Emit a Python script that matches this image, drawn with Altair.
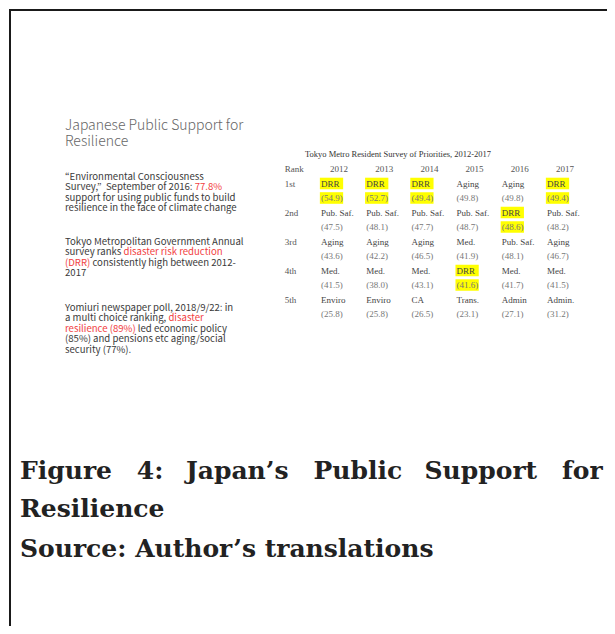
import altair as alt
import pandas as pd

# ---------------- data ----------------
ranks = ["1st", "2nd", "3rd", "4th", "5th"]
years = ["2012", "2013", "2014", "2015", "2016", "2017"]

items_2012 = ["DRR", "Pub. Saf.", "Aging", "Med.", "Enviro"]
items_2013 = ["DRR", "Pub. Saf.", "Aging", "Med.", "Enviro"]
items_2014 = ["DRR", "Pub. Saf.", "Aging", "Med.", "CA"]
items_2015 = ["Aging", "Pub. Saf.", "Med.", "DRR", "Trans."]
items_2016 = ["Aging", "DRR", "Pub. Saf.", "Med.", "Admin"]
items_2017 = ["DRR", "Pub. Saf.", "Aging", "Med.", "Admin."]

values_2012 = [54.9, 47.5, 43.6, 41.5, 25.8]
values_2013 = [52.7, 48.1, 42.2, 38.0, 25.8]
values_2014 = [49.4, 47.7, 46.5, 43.1, 26.5]
values_2015 = [49.8, 48.7, 41.9, 41.6, 23.1]
values_2016 = [49.8, 48.6, 48.1, 41.7, 27.1]
values_2017 = [49.4, 48.2, 46.7, 41.5, 31.2]

highlight_item = "DRR"
table_title = "Tokyo Metro Resident Survey of Priorities, 2012-2017"
rank_header = "Rank"

slide_title = ["Japanese Public Support for", "Resilience"]
# each line: (red prefix, dark text, red suffix)
para1 = [("", "\u201cEnvironmental Consciousness", ""),
         ("", "Survey,\u201d\u00a0 September of 2016: ", "77.8%"),
         ("", "support for using public funds to build", ""),
         ("", "resilience in the face of climate change", "")]
para2 = [("", "Tokyo Metropolitan Government Annual", ""),
         ("", "survey ranks ", "disaster risk reduction"),
         ("(DRR)", " consistently high between 2012-", ""),
         ("", "2017", "")]
para3 = [("", "Yomiuri newspaper poll, 2018/9/22: in", ""),
         ("", "a multi choice ranking, ", "disaster"),
         ("resilience (89%)", " led economic policy", ""),
         ("", "(85%) and pensions etc aging/social", ""),
         ("", "security (77%).", "")]
caption_words = ["Figure", "4:", "Japan\u2019s", "Public", "Support", "for"]
caption2 = "Resilience"
caption3 = "Source: Author\u2019s translations"

items_by_year = [items_2012, items_2013, items_2014, items_2015, items_2016, items_2017]
values_by_year = [values_2012, values_2013, values_2014, values_2015, values_2016, values_2017]

# ---------------- tables ----------------
cells = []
for c, (its, vals) in enumerate(zip(items_by_year, values_by_year), start=1):
    for j, (it, v) in enumerate(zip(its, vals)):
        hl = it == highlight_item
        cells.append(dict(col=c, row=2 * j + 1, label=it, kind="item", hl=hl))
        cells.append(dict(col=c, row=2 * j + 2, label=f"({v:.1f})", kind="value", hl=hl))
cells = pd.DataFrame(cells)
hl_cells = cells[cells.hl].copy()
hl_cells["x0"] = hl_cells.col - 0.025
hl_cells["x1"] = hl_cells.col + 0.49
hl_cells["y0"] = hl_cells.row - 0.4
hl_cells["y1"] = hl_cells.row + 0.4

header = pd.DataFrame({"col": list(range(1, 7)), "row": 0, "label": years})
rank_df = pd.DataFrame({"col": 0, "row": [2 * j + 1 for j in range(len(ranks))], "label": ranks})
rank_head = pd.DataFrame({"col": [0], "row": [0], "label": [rank_header]})

W, H = 599, 618
XS = alt.Scale(domain=[0, 6], range=[266.8, 538])
YS = alt.Scale(domain=[0, 10], range=[160, 305])

LEFT_FONT = "Noto Sans CJK JP"
TABLE_FONT = "Liberation Serif"
CAP_FONT = "DejaVu Serif"
DARK = "#3a3a3a"
RED = "#f2413f"
PSIZE = 9.6
PLH = 10.4


def tbl_text(df, color, dx=0, align="left"):
    return alt.Chart(df).mark_text(
        align=align, baseline="middle", font=TABLE_FONT, fontSize=9, color=color, dx=dx
    ).encode(
        x=alt.X("col:Q", scale=XS, axis=None),
        y=alt.Y("row:Q", scale=YS, axis=None),
        text="label:N",
    )


def line(txt, x, y, color, size=PSIZE, weight=400, font=LEFT_FONT, stroke=None):
    kw = dict(align="left", baseline="middle", font=font, fontSize=size, fontWeight=weight, color=color)
    if stroke:
        kw.update(stroke=stroke, strokeWidth=1.4)
    return alt.Chart(pd.DataFrame({"t": [txt]})).mark_text(**kw).encode(
        x=alt.value(x), y=alt.value(y), text="t:N")


def recolor(full, seg, x, y, base, accent):
    # full line in base colour; the leading segment knocked out and redrawn in accent colour
    return [line(full, x, y, base), line(seg, x, y, "white", stroke="white"), line(seg, x, y, accent)]


def paragraph(spec, x, y0):
    out = []
    for i, (p, m, s) in enumerate(spec):
        y = y0 + i * PLH
        if s:
            out += recolor(m + s, m, x, y, RED, DARK)
        elif p:
            out += recolor(p + m, p, x, y, DARK, RED)
        else:
            out.append(line(m, x, y, DARK))
    return out


layers = []
# border lines
layers.append(alt.Chart(pd.DataFrame({"a": [0]})).mark_rule(color="#1a1a1a", strokeWidth=2).encode(
    x=alt.value(0), x2=alt.value(W), y=alt.value(1)))
layers.append(alt.Chart(pd.DataFrame({"a": [0]})).mark_rule(color="#1a1a1a", strokeWidth=2).encode(
    x=alt.value(1), y=alt.value(0), y2=alt.value(H)))

# slide title and paragraphs
for i, t in enumerate(slide_title):
    layers.append(line(t, 56, 117 + i * 16, "#666666", size=14, weight=300))
layers += paragraph(para1, 56, 168)
layers += paragraph(para2, 56, 233)
layers += paragraph(para3, 56, 299)

# table
layers.append(alt.Chart(hl_cells).mark_rect(color="#ffff00").encode(
    x=alt.X("x0:Q", scale=XS, axis=None), x2="x1:Q",
    y=alt.Y("y0:Q", scale=YS, axis=None), y2="y1:Q"))
layers.append(alt.Chart(pd.DataFrame({"t": [table_title]})).mark_text(
    align="center", baseline="middle", font=TABLE_FONT, fontSize=8.5, color="#333333"
).encode(x=alt.value(389), y=alt.value(145), text="t:N"))
layers.append(tbl_text(header, "#555555", dx=18, align="center"))
layers.append(tbl_text(rank_head, "#555555", dx=9))
layers.append(tbl_text(rank_df, "#555555", dx=9))
layers.append(tbl_text(cells[cells.kind == "item"], "#444444"))
layers.append(tbl_text(cells[cells.kind == "value"], "#777777"))

# caption (first line justified with wider word gaps)
gaps = ["\u00a0\u2009\u200a ", "\u00a0\u2009 ", "\u00a0\u2009\u200a ", "\u00a0\u2009 ", "\u00a0\u2009\u200a "]
caption1 = caption_words[0] + "".join(g + w for g, w in zip(gaps, caption_words[1:]))
for txt, yy in [(caption1, 462), (caption2, 500), (caption3, 540)]:
    layers.append(alt.Chart(pd.DataFrame({"t": [txt]})).mark_text(
        align="left", baseline="middle", font=CAP_FONT, fontSize=25, fontWeight="bold", color="#222222"
    ).encode(x=alt.value(11), y=alt.value(yy), text="t:N"))

chart = alt.layer(*layers).properties(
    width=W, height=H, padding=0,
    autosize=alt.AutoSizeParams(type="fit", contains="padding"),
).configure_view(stroke=None)

chart.save("out.html", embed_options={"renderer": "svg", "actions": False})
